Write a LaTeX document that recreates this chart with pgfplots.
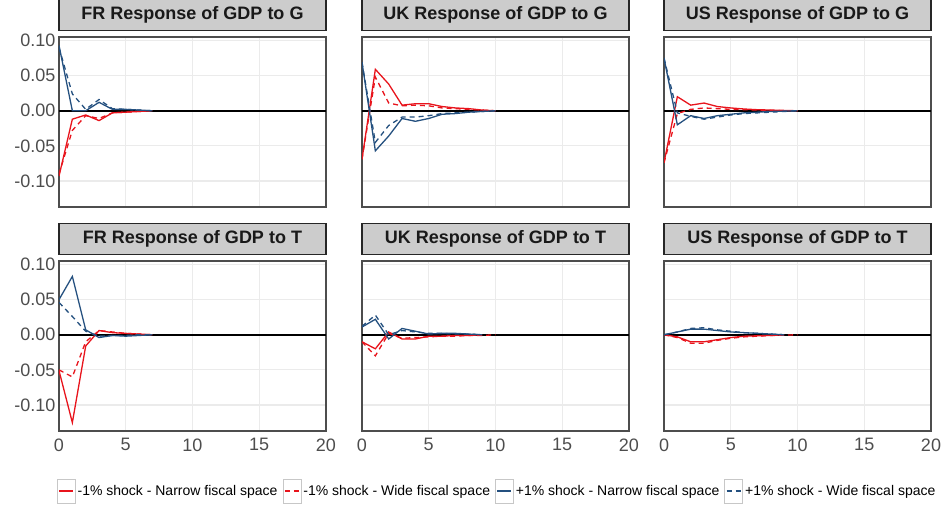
\documentclass[border=0pt]{standalone}
\usepackage{pgfplots}
\pgfplotsset{compat=1.18}
\usepackage{fontspec}
\setmainfont{Liberation Sans}

\definecolor{myred}{HTML}{E8141C}
\definecolor{myblue}{HTML}{24507F}
\definecolor{gridgray}{HTML}{EBEBEB}
\definecolor{framegray}{HTML}{4D4D4D}
\definecolor{labelgray}{HTML}{4D4D4D}
\definecolor{stripgray}{HTML}{CCCCCC}

\pgfplotsset{
  panel/.style={
    scale only axis, width=267pt, height=170pt,
    xmin=0, xmax=20, ymin=-0.137, ymax=0.105,
    xtick={0,5,10,15,20},
    xticklabels={0,5,10,15,20},
    ytick={-0.1,-0.05,0,0.05,0.1},
    yticklabels={-0.10,-0.05,0.00,0.05,0.10},
    grid=major,
    major grid style={line width=1.2pt, color=gridgray},
    axis line style={line width=1.2pt, color=framegray},
    major tick length=0pt,
    tick label style={font=\fontsize{18}{20}\selectfont, text=labelgray},
    xticklabel style={yshift=-4pt},
    title style={at={(0.5,1)}, anchor=south, fill=stripgray, draw=black!85,
      line width=1.2pt, minimum width=267pt, minimum height=31pt, inner sep=0pt,
      font=\bfseries\fontsize{18}{20}\selectfont, text=black!90},
  },
  nox/.style={xticklabels={}},
  noy/.style={yticklabels={}},
  rn/.style={color=myred, line width=1.3pt, solid},
  rw/.style={color=myred, line width=1.3pt, dash pattern=on 5pt off 4pt},
  bn/.style={color=myblue, line width=1.3pt, solid},
  bw/.style={color=myblue, line width=1.3pt, dash pattern=on 5pt off 4pt},
  zero/.style={black, line width=1.5pt, forget plot},
}

\begin{document}
\begin{tikzpicture}
\useasboundingbox (0pt,0pt) rectangle (951pt,-508pt);

% ---- top row: response to G ----
\begin{axis}[panel, nox, at={(59pt,-37pt)}, anchor=north west, title={FR Response of GDP to G}]
\addplot[zero] coordinates {(0,0) (20,0)};
\addplot[rn] coordinates {(0,-0.093) (1,-0.012) (2,-0.006) (3,-0.014) (4,-0.003) (5,-0.002) (6,-0.001) (7,0)};
\addplot[rw] coordinates {(0,-0.090) (1,-0.028) (2,-0.007) (3,-0.011) (4,-0.003) (5,-0.002) (6,-0.001) (7,0)};
\addplot[bn] coordinates {(0,0.093) (1,0.000) (2,0.000) (3,0.012) (4,0.002) (5,0.002) (6,0.001) (7,0)};
\addplot[bw] coordinates {(0,0.090) (1,0.024) (2,0.002) (3,0.016) (4,0.003) (5,0.002) (6,0.001) (7,0)};
\end{axis}

\begin{axis}[panel, nox, noy, at={(362pt,-37pt)}, anchor=north west, title={UK Response of GDP to G}]
\addplot[zero] coordinates {(0,0) (20,0)};
\addplot[rn] coordinates {(0,-0.069) (1,0.059) (2,0.038) (3,0.008) (4,0.010) (5,0.010) (6,0.006) (7,0.004) (8,0.003) (9,0.001) (10,0)};
\addplot[rw] coordinates {(0,-0.069) (1,0.048) (2,0.011) (3,0.007) (4,0.008) (5,0.007) (6,0.004) (7,0.003) (8,0.002) (9,0.001) (10,0)};
\addplot[bn] coordinates {(0,0.069) (1,-0.057) (2,-0.036) (3,-0.011) (4,-0.015) (5,-0.011) (6,-0.005) (7,-0.004) (8,-0.002) (9,-0.001) (10,0)};
\addplot[bw] coordinates {(0,0.069) (1,-0.045) (2,-0.021) (3,-0.009) (4,-0.009) (5,-0.007) (6,-0.004) (7,-0.003) (8,-0.002) (9,-0.001) (10,0)};
\end{axis}

\begin{axis}[panel, nox, noy, at={(664pt,-37pt)}, anchor=north west, title={US Response of GDP to G}]
\addplot[zero] coordinates {(0,0) (20,0)};
\addplot[rn] coordinates {(0,-0.074) (1,0.020) (2,0.008) (3,0.011) (4,0.006) (5,0.004) (6,0.0025) (7,0.0015) (8,0.001) (9,0.0005) (10,0)};
\addplot[rw] coordinates {(0,-0.074) (1,-0.004) (2,0.002) (3,0.004) (4,0.003) (5,0.002) (6,0.0015) (7,0.001) (8,0.0005) (9,0) (10,0)};
\addplot[bn] coordinates {(0,0.075) (1,-0.020) (2,-0.007) (3,-0.011) (4,-0.007) (5,-0.005) (6,-0.003) (7,-0.002) (8,-0.001) (9,-0.0005) (10,0)};
\addplot[bw] coordinates {(0,0.075) (1,-0.003) (2,-0.008) (3,-0.012) (4,-0.009) (5,-0.006) (6,-0.004) (7,-0.003) (8,-0.002) (9,-0.001) (10,0)};
\end{axis}

% ---- bottom row: response to T ----
\begin{axis}[panel, at={(59pt,-261pt)}, anchor=north west, title={FR Response of GDP to T}]
\addplot[zero] coordinates {(0,0) (20,0)};
\addplot[rn] coordinates {(0,-0.051) (1,-0.125) (2,-0.016) (3,0.006) (4,0.003) (5,0.002) (6,0.001) (7,0)};
\addplot[rw] coordinates {(0,-0.050) (1,-0.060) (2,-0.010) (3,0.006) (4,0.004) (5,0.002) (6,0.001) (7,0)};
\addplot[bn] coordinates {(0,0.050) (1,0.083) (2,0.007) (3,-0.004) (4,-0.001) (5,-0.002) (6,-0.001) (7,0)};
\addplot[bw] coordinates {(0,0.046) (1,0.026) (2,0.005) (3,-0.002) (4,-0.001) (5,-0.001) (6,0) (7,0)};
\end{axis}

\begin{axis}[panel, noy, at={(362pt,-261pt)}, anchor=north west, title={UK Response of GDP to T},
  legend columns=4,
  legend style={at={(0.506,-0.353)}, anchor=center, draw=none, fill=none,
    font=\fontsize{14}{16}\selectfont,
    /tikz/every even column/.append style={column sep=3pt}},
  legend cell align=left,
  legend image code/.code={
    \draw[draw=black!22, line width=0.8pt, fill=white, solid] (0pt,-12pt) rectangle (18pt,12pt);
    \draw[#1] (2pt,0pt) -- (16pt,0pt);
  }]
\addplot[zero] coordinates {(0,0) (20,0)};
\addplot[rn] coordinates {(0,-0.010) (1,-0.020) (2,0.004) (3,-0.006) (4,-0.006) (5,-0.002) (6,-0.002) (7,-0.001) (8,-0.001) (9,0)};
\addlegendentry{-1\% shock - Narrow fiscal space}
\addplot[rw] coordinates {(0,-0.010) (1,-0.030) (2,0.002) (3,-0.005) (4,-0.004) (5,-0.003) (6,-0.002) (7,-0.002) (8,-0.001) (9,-0.001) (10,0)};
\addlegendentry{-1\% shock - Wide fiscal space}
\addplot[bn] coordinates {(0,0.011) (1,0.022) (2,-0.006) (3,0.009) (4,0.005) (5,0.001) (6,0.002) (7,0.002) (8,0.001) (9,0)};
\addlegendentry{+1\% shock - Narrow fiscal space}
\addplot[bw] coordinates {(0,0.012) (1,0.028) (2,0.000) (3,0.006) (4,0.004) (5,0.002) (6,0.002) (7,0.001) (8,0.001) (9,0)};
\addlegendentry{+1\% shock - Wide fiscal space}
\end{axis}

\begin{axis}[panel, noy, at={(664pt,-261pt)}, anchor=north west, title={US Response of GDP to T}]
\addplot[zero] coordinates {(0,0) (20,0)};
\addplot[rn] coordinates {(0,0) (1,-0.003) (2,-0.010) (3,-0.010) (4,-0.007) (5,-0.004) (6,-0.002) (7,-0.0015) (8,-0.001) (9,0)};
\addplot[rw] coordinates {(0,0) (1,-0.004) (2,-0.012) (3,-0.012) (4,-0.008) (5,-0.005) (6,-0.003) (7,-0.002) (8,-0.001) (9,-0.0005) (10,0)};
\addplot[bn] coordinates {(0,0) (1,0.004) (2,0.008) (3,0.008) (4,0.006) (5,0.004) (6,0.003) (7,0.002) (8,0.001) (9,0)};
\addplot[bw] coordinates {(0,0) (1,0.004) (2,0.009) (3,0.010) (4,0.007) (5,0.005) (6,0.003) (7,0.002) (8,0.001) (9,0)};
\end{axis}
\end{tikzpicture}
\end{document}
